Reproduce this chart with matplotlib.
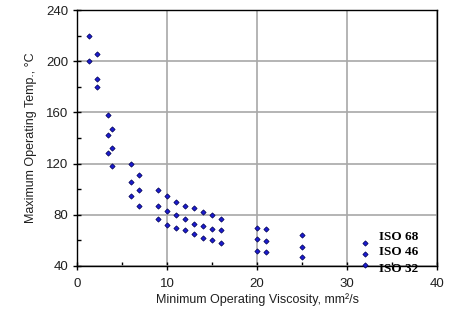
import matplotlib
matplotlib.use("Agg")
import matplotlib.pyplot as plt

# viscosity (mm2/s) and temperature (degC)
iso68_x = [1.3, 2.2, 3.4, 3.9, 6, 6.9, 9, 10, 11, 12, 13, 14, 15, 16, 20, 21, 25, 32]
iso68_y = [220, 206, 158, 147, 120, 111, 99, 95, 90, 87, 85, 82, 80, 77, 70, 69, 64, 58]

iso46_x = [1.3, 2.2, 3.4, 3.9, 6, 6.9, 9, 10, 11, 12, 13, 14, 15, 16, 20, 21, 25, 32]
iso46_y = [200, 186, 142, 132, 106, 99, 87, 83, 80, 77, 73, 71, 69, 68, 61, 59.5, 55, 49]

iso32_x = [2.2, 3.4, 3.9, 6, 6.9, 9, 10, 11, 12, 13, 14, 15, 16, 20, 21, 25, 32]
iso32_y = [180, 128, 118, 95, 87, 77, 72, 70, 68, 65, 62, 60, 58, 52, 51, 47, 41]

labels = ["ISO 68", "ISO 46", "ISO 32"]
label_y = [63, 51, 37.5]

plt.rcParams['font.family'] = ['Liberation Sans', 'DejaVu Sans']

fig = plt.figure(figsize=(4.49, 3.23), dpi=100)
ax = fig.add_axes([0.1715, 0.1765, 0.8018, 0.7925])

for xs, ys in [(iso68_x, iso68_y), (iso46_x, iso46_y), (iso32_x, iso32_y)]:
    ax.plot(xs, ys, linestyle='none', marker='D', markersize=2.7,
            markerfacecolor='#1a1ad0', markeredgecolor='#000050',
            markeredgewidth=0.5, clip_on=False, zorder=3)

for lab, ly in zip(labels, label_y):
    ax.text(33.6, ly, lab, fontsize=9.5, fontweight='bold',
            family=['Liberation Serif'], va='center', ha='left',
            clip_on=False, zorder=4)

ax.set_xlim(0, 40)
ax.set_ylim(40, 240)
ax.set_xticks([0, 10, 20, 30, 40])
ax.set_xticks([5, 15, 25, 35], minor=True)
ax.set_yticks([40, 80, 120, 160, 200, 240])
ax.set_yticks([60, 100, 140, 180, 220], minor=True)

ax.grid(True, which='major', color='#a8a8a8', linewidth=1.2)
ax.set_axisbelow(True)
for s in ax.spines.values():
    s.set_color('black')
    s.set_linewidth(1.0)

ax.tick_params(which='major', direction='inout', length=6, width=1,
               labelsize=9.5, colors='black', labelcolor='#202020')
ax.tick_params(which='minor', direction='in', length=3, width=1)
ax.tick_params(axis='x', pad=6)

ax.set_xlabel("Minimum Operating Viscosity, mm²/s", fontsize=9, color='#202020', labelpad=2)
ax.set_ylabel("Maximum Operating Temp., °C", fontsize=9, color='#202020', labelpad=6)

fig.savefig("out.png", dpi=100)
